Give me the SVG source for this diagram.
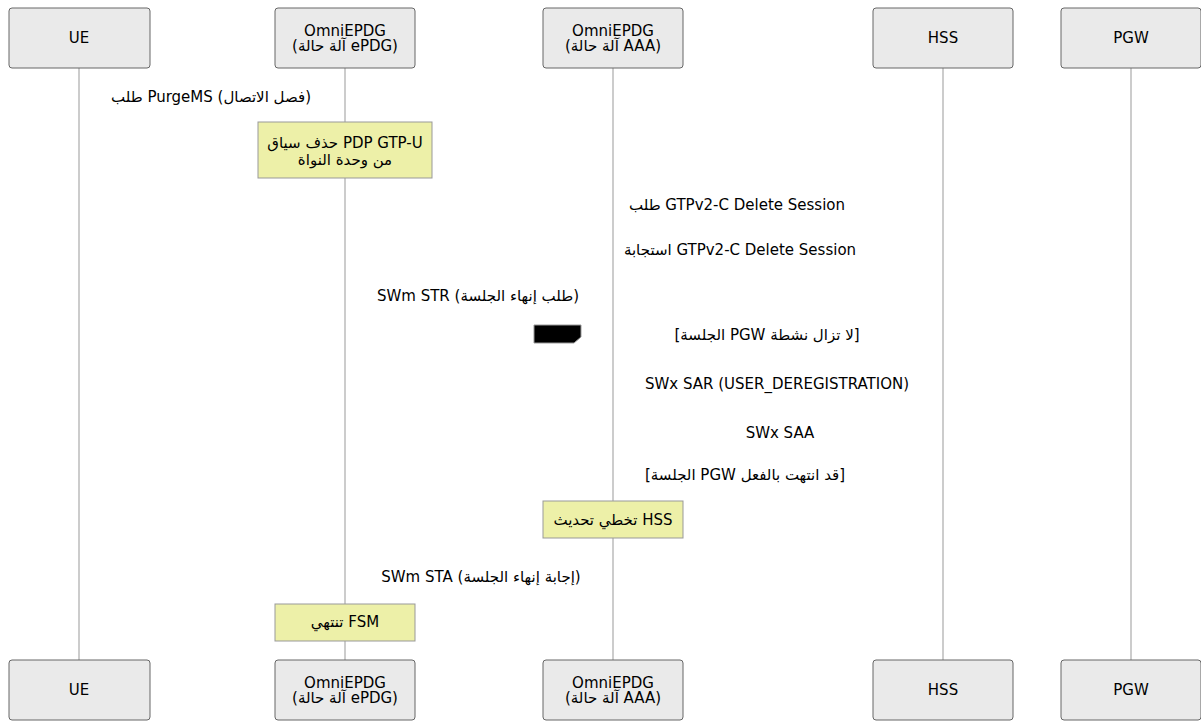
<svg xmlns="http://www.w3.org/2000/svg" width="1201" height="724" viewBox="0 0 1201 724">
<style>
text{font-family:"DejaVu Sans","Noto Sans",sans-serif;font-size:15px;fill:#000;text-anchor:middle;dominant-baseline:central}
.actor{fill:#eaeaea;stroke:#666;stroke-width:1}
.life{stroke:#999;stroke-width:1}
.life2{stroke:#bbb;stroke-width:1.5}
.note{fill:#edf0a8;stroke:#999;stroke-width:1}
</style>
<rect width="1201" height="724" fill="#fff"/>
<g id="lifelines">
<line class="life" x1="79" y1="68" x2="79" y2="660"/>
<line class="life2" x1="345" y1="68" x2="345" y2="660"/>
<line class="life" x1="613" y1="68" x2="613" y2="660"/>
<line class="life" x1="943" y1="68" x2="943" y2="660"/>
<line class="life" x1="1131" y1="68" x2="1131" y2="660"/>
</g>
<g id="ue-top"><rect class="actor" x="9" y="8" width="141" height="60" rx="3"/><text x="79" y="38">UE</text></g>
<g id="epdg-top"><rect class="actor" x="275" y="8" width="140" height="60" rx="3"/><text x="345" y="30.5">OmniEPDG</text><text x="345" y="45.5">(آلة حالة ePDG)</text></g>
<g id="aaa-top"><rect class="actor" x="543" y="8" width="140" height="60" rx="3"/><text x="613" y="30.5">OmniEPDG</text><text x="613" y="45.5">(آلة حالة AAA)</text></g>
<g id="hss-top"><rect class="actor" x="873" y="8" width="140" height="60" rx="3"/><text x="943" y="38">HSS</text></g>
<g id="pgw-top"><rect class="actor" x="1061" y="8" width="140" height="60" rx="3"/><text x="1131" y="38">PGW</text></g>
<g id="ue-bottom"><rect class="actor" x="9" y="660" width="141" height="60" rx="3"/><text x="79" y="690">UE</text></g>
<g id="epdg-bottom"><rect class="actor" x="275" y="660" width="140" height="60" rx="3"/><text x="345" y="682.5">OmniEPDG</text><text x="345" y="697.5">(آلة حالة ePDG)</text></g>
<g id="aaa-bottom"><rect class="actor" x="543" y="660" width="140" height="60" rx="3"/><text x="613" y="682.5">OmniEPDG</text><text x="613" y="697.5">(آلة حالة AAA)</text></g>
<g id="hss-bottom"><rect class="actor" x="873" y="660" width="140" height="60" rx="3"/><text x="943" y="690">HSS</text></g>
<g id="pgw-bottom"><rect class="actor" x="1061" y="660" width="140" height="60" rx="3"/><text x="1131" y="690">PGW</text></g>
<g id="connectors">
<text x="211" y="97">طلب PurgeMS (فصل الاتصال)</text>
<text x="737" y="205">طلب GTPv2-C Delete Session</text>
<text x="740" y="250">استجابة GTPv2-C Delete Session</text>
<text x="478" y="296">SWm STR (طلب إنهاء الجلسة)</text>
<polygon points="534,325 581,325 581,337 574,343 534,343" fill="#000" stroke="#999" stroke-width="1"/>
<text x="767" y="335">[الجلسة PGW لا تزال نشطة]</text>
<text x="777" y="384">SWx SAR (USER_DEREGISTRATION)</text>
<text x="780" y="433">SWx SAA</text>
<text x="745" y="475">[الجلسة PGW قد انتهت بالفعل]</text>
<text x="481" y="577">SWm STA (إجابة إنهاء الجلسة)</text>
</g>
<g id="note-gtpu"><rect class="note" x="258" y="122" width="174" height="56"/><text x="345" y="143">حذف سياق PDP GTP-U</text><text x="345" y="160">من وحدة النواة</text></g>
<g id="note-hss"><rect class="note" x="543" y="501" width="140" height="37"/><text x="613" y="520">تخطي تحديث HSS</text></g>
<g id="note-fsm"><rect class="note" x="275" y="604" width="140" height="37"/><text x="345" y="622">تنتهي FSM</text></g>
</svg>
